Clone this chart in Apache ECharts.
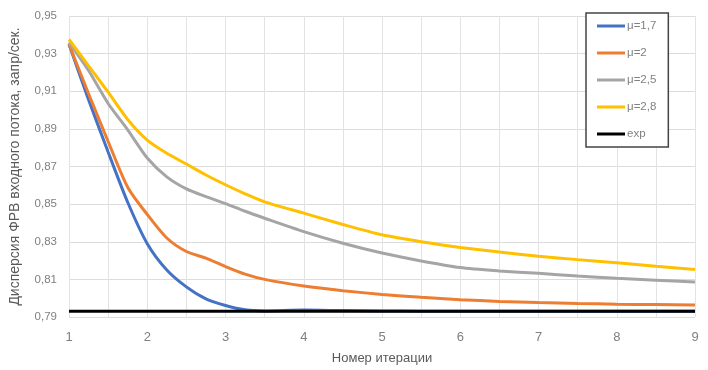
<!DOCTYPE html>
<html>
<head>
<meta charset="utf-8">
<script src="https://cdn.jsdelivr.net/npm/echarts@6/dist/echarts.min.js"></script>
<style>
html,body{margin:0;padding:0;background:#fff;}
#chart{width:708px;height:370px;}
</style>
</head>
<body>
<div id="chart"></div>
<script>
var iterations = [1, 1.25, 1.5, 1.75, 2, 2.25, 2.5, 2.75, 3, 3.25, 3.5, 4, 4.5, 5, 5.5, 6, 6.5, 7, 7.5, 8, 8.5, 9];
var mu17 = [0.935, 0.9055, 0.8777, 0.851, 0.829, 0.815, 0.806, 0.7996, 0.7961, 0.7938, 0.7932, 0.7937, 0.7934, 0.7932, 0.7931, 0.7931, 0.7931, 0.7931, 0.7931, 0.7931, 0.7931, 0.7931];
var mu20 = [0.935, 0.9087, 0.8833, 0.859, 0.8445, 0.832, 0.8248, 0.8213, 0.8168, 0.8128, 0.810, 0.8065, 0.804, 0.802, 0.8005, 0.7992, 0.7983, 0.7977, 0.7972, 0.7968, 0.7966, 0.7964];
var mu25 = [0.936, 0.921, 0.9035, 0.8895, 0.8745, 0.8645, 0.8581, 0.854, 0.8503, 0.8462, 0.8425, 0.8354, 0.8292, 0.824, 0.8198, 0.8163, 0.8145, 0.8132, 0.8118, 0.8106, 0.8096, 0.8086];
var mu28 = [0.9375, 0.9235, 0.9095, 0.895, 0.884, 0.877, 0.8713, 0.8655, 0.8603, 0.8555, 0.8512, 0.8452, 0.8392, 0.8337, 0.830, 0.827, 0.8245, 0.8223, 0.8205, 0.8188, 0.817, 0.8153];
var expIter = [1, 9];
var expVal = [0.793, 0.793];
var seriesNames = ['μ=1,7', 'μ=2', 'μ=2,5', 'μ=2,8', 'exp'];
var xTickLabels = ['1', '2', '3', '4', '5', '6', '7', '8', '9'];
var yTickLabels = ['0,79', '0,81', '0,83', '0,85', '0,87', '0,89', '0,91', '0,93', '0,95'];

function pairs(xs, ys) { return xs.map(function (x, i) { return [x, ys[i]]; }); }

var font = "'Liberation Sans Narrow', 'Liberation Sans', sans-serif";
var colors = ['#4472C4', '#ED7D31', '#A5A5A5', '#FFC000', '#000000'];
var datasets = [pairs(iterations, mu17), pairs(iterations, mu20), pairs(iterations, mu25), pairs(iterations, mu28), pairs(expIter, expVal)];

var chart = echarts.init(document.getElementById('chart'), null, {renderer: 'canvas'});
chart.setOption({
  animation: false,
  backgroundColor: '#ffffff',
  grid: {left: 66, right: 13, top: 16, bottom: 50},
  legend: {
    data: seriesNames,
    orient: 'vertical',
    left: 586,
    top: 13,
    padding: [6, 12, 6, 11],
    itemGap: 13,
    itemWidth: 28,
    itemHeight: 3,
    icon: 'rect',
    borderColor: '#444',
    borderWidth: 1.5,
    borderRadius: 0,
    backgroundColor: '#fff',
    textStyle: {fontFamily: font, fontSize: 11.5, color: '#808080', padding: [0, 0, 0, -3], height: 14, lineHeight: 14}
  },
  xAxis: {
    type: 'value',
    min: 1, max: 9, interval: 0.5,
    name: 'Номер итерации',
    nameLocation: 'middle',
    nameGap: 35,
    nameTextStyle: {fontFamily: font, fontSize: 13, color: '#595959'},
    axisLine: {show: false},
    axisTick: {show: false},
    axisLabel: {
      fontFamily: font, fontSize: 13, color: '#7f7f7f', margin: 14,
      formatter: function (v) {
        var idx = xTickLabels.indexOf(String(v));
        return idx >= 0 ? xTickLabels[idx] : '';
      }
    },
    splitLine: {show: true, lineStyle: {color: '#e3e3e3', width: 1}}
  },
  yAxis: {
    type: 'value',
    min: 0.79, max: 0.95, interval: 0.01,
    name: 'Дисперсия ФРВ входного потока, запр/сек.',
    nameLocation: 'middle',
    nameGap: 47,
    nameRotate: 90,
    nameTextStyle: {fontFamily: font, fontSize: 14, color: '#595959'},
    axisLine: {show: false},
    axisTick: {show: false},
    axisLabel: {
      fontFamily: font, fontSize: 11.5, color: '#7f7f7f', margin: 12,
      formatter: function (v) {
        var s = v.toFixed(2).replace('.', ',');
        return yTickLabels.indexOf(s) >= 0 ? s : '';
      }
    },
    splitLine: {show: true, lineStyle: {color: ['#dcdcdc', 'rgba(0,0,0,0)'], width: 1.2}}
  },
  series: seriesNames.map(function (name, i) {
    return {
      name: name,
      type: 'line',
      data: datasets[i],
      smooth: i === 4 ? false : 0.25,
      showSymbol: false,
      symbol: 'none',
      color: colors[i],
      lineStyle: {color: colors[i], width: 3},
      z: i === 4 ? 10 : 2 + i
    };
  })
});
</script>
</body>
</html>
